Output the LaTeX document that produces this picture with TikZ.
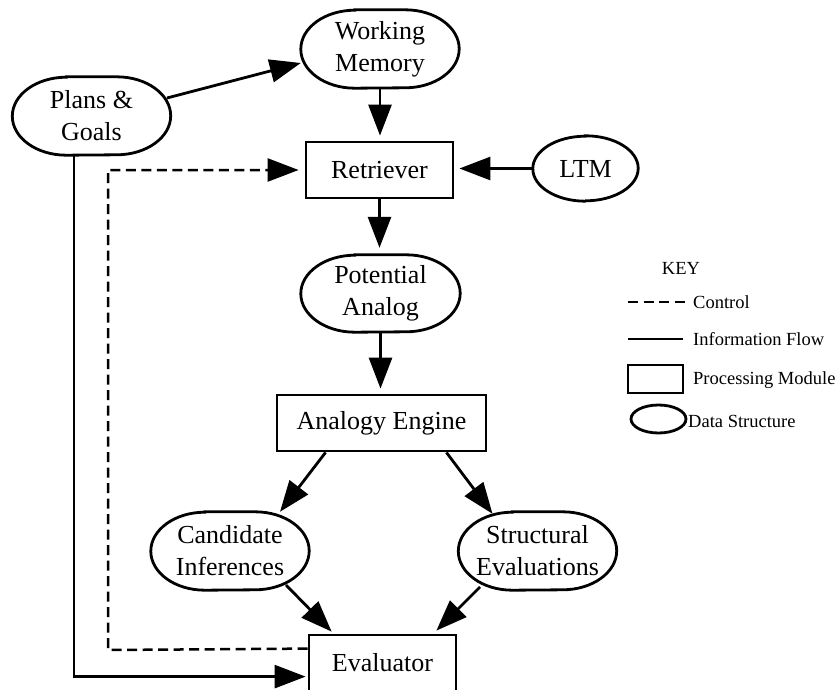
\documentclass[tikz,border=0pt]{standalone}
\usepackage{fontspec}
\setmainfont{Liberation Serif}
\usetikzlibrary{arrows.meta}
\begin{document}
\begin{tikzpicture}[x=1pt,y=-1pt,
  every node/.style={font=\fontsize{26}{32}\selectfont, align=center, inner sep=0pt},
  module/.style={draw, line width=2.8pt, minimum width=147pt, minimum height=56pt},
  datum/.style={minimum width=158pt, minimum height=78pt},
  outline/.style={line width=2.8pt},
  flow/.style={line width=2.8pt, -{Triangle[length=31pt,width=23pt]}},
  ctrl/.style={line width=2.5pt, dash pattern=on 10pt off 5.5pt, -{Triangle[length=31pt,width=23pt]}},
  keytext/.style={font=\fontsize{18.5}{22}\selectfont, anchor=west}]
\useasboundingbox (0,0) rectangle (838,690);

% processing modules and data structures
\node[datum] (pg) at (91.5,116) {Plans \&\\Goals};
\node[datum] (wm) at (380,49) {Working\\Memory};
\node[module] (ret) at (379.5,170) {Retriever};
\node[datum, minimum width=105pt, minimum height=65pt] (ltm) at (585.5,168.5) {LTM};
\node[datum, minimum width=159pt, minimum height=77pt] (pa) at (380.5,293.5) {Potential\\Analog};
\node[module, minimum width=209pt] (ae) at (381.5,423) {Analogy Engine};
\node[datum] (ci) at (230,551) {Candidate\\Inferences};
\node[datum] (se) at (537.5,551) {Structural\\Evaluations};
\node[module] (ev) at (382.5,663) {Evaluator};

% rounded outlines of the data structures
\foreach \n/\rx/\ry in {pg/54/39, wm/54/39, pa/54/38.5, ci/54/39, se/54/39, ltm/52.5/32.5}
  \draw[outline] ([xshift=\rx pt]\n.north west) -- ([xshift=-\rx pt]\n.north east)
    arc[start angle=90,end angle=-90,x radius=\rx pt,y radius=\ry pt]
    -- ([xshift=\rx pt]\n.south west)
    arc[start angle=270,end angle=90,x radius=\rx pt,y radius=\ry pt] -- cycle;

% information flow
\draw[flow] ([xshift=75.5pt,yshift=18pt]pg.center) -- ([yshift=-14pt]wm.west);
\draw[flow, shorten >=5pt] (wm) -- (wm.south |- ret.north);
\draw[flow, shorten >=5pt] (ltm.west) -- (ltm.west -| ret.east);
\draw[flow, shorten >=7pt] (ret) -- (ret.south |- pa.north);
\draw[flow, shorten >=5pt] (pa) -- (pa.south |- ae.north);
\draw[flow] ([xshift=50pt]ae.south west) -- ([xshift=50pt]ci.north);
\draw[flow] ([xshift=-41pt]ae.south east) -- ([xshift=-45pt,yshift=-2pt]se.north);
\draw[flow] ([xshift=56pt,yshift=-34pt]ci.center) -- ([xshift=24pt,yshift=2pt]ev.north west);
\draw[flow] ([xshift=-57.5pt,yshift=-36pt]se.center) -- ([xshift=-21pt,yshift=3pt]ev.north east);
\draw[flow, shorten >=2pt] ([xshift=-17.5pt]pg.south) |- ([yshift=-43pt]ev.north west);

% control
\coordinate (cbend) at (108,650);
\draw[ctrl, shorten >=6pt] ([yshift=-15pt]ev.north west) -- (cbend) |- (ret.west);

% key
\node[keytext, anchor=center] (key) at (681,268) {KEY};
\coordinate (ctlA) at (628,302);
\coordinate (ctlB) at (685,302);
\draw[line width=2.5pt, dash pattern=on 10pt off 5.5pt] (ctlA) -- (ctlB);
\node[keytext] (kctl) at (693,302) {Control};
\coordinate (flA) at (628,339);
\coordinate (flB) at (683,339);
\draw[line width=2.8pt] (flA) -- (flB);
\node[keytext] (kflow) at (693,339) {Information Flow};
\draw[line width=2.8pt] (628,365) rectangle (683,393);
\node[keytext] (kmod) at (693,380) {Processing Module};
\draw[line width=2.8pt] (658.5,419) ellipse [x radius=27.5pt, y radius=14pt];
\node[keytext] (kdata) at (688,421) {Data Structure};
\end{tikzpicture}
\end{document}
